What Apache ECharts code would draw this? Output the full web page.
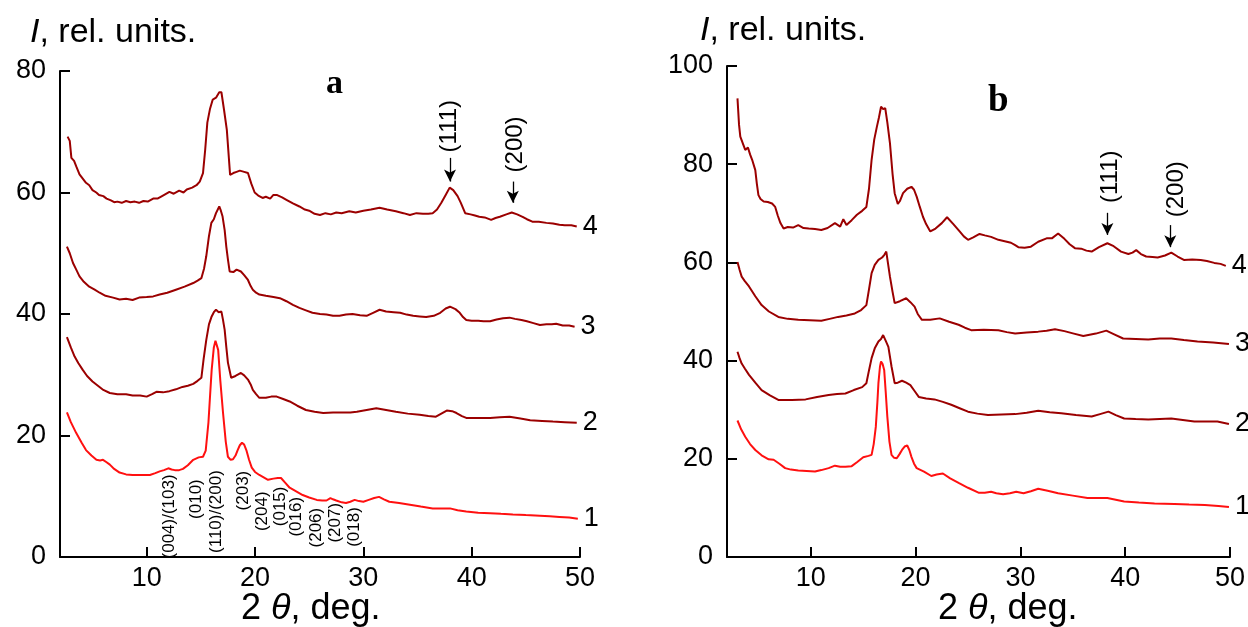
<!DOCTYPE html>
<html><head><meta charset="utf-8">
<script src="https://cdn.jsdelivr.net/npm/echarts@6/dist/echarts.min.js"></script>
<style>html,body{margin:0;padding:0;background:#fff}#c{width:1248px;height:627px}</style>
</head><body><div id="c"></div>
<script>
// ---------- data ----------
const xTicks = [10, 20, 30, 40, 50];
const curveNames = ['1', '2', '3', '4'];

// panel a
const a4 = [[2.7,69.2],[2.9,68.5],[3.05,65.7],[3.3,65.2],[3.5,64.3],[3.8,63.0],[4.1,62.3],[4.4,61.6],[4.7,61.2],[5.0,60.4],[5.35,60.0],[5.6,59.6],[6.0,59.4],[6.3,59.0],[6.7,58.7],[7.0,58.4],[7.3,58.5],[7.7,58.3],[8.1,58.6],[8.5,58.4],[8.9,58.5],[9.3,58.3],[9.7,58.6],[10.1,58.5],[10.6,59.0],[11.0,59.0],[11.5,59.5],[12.1,60.1],[12.5,59.8],[13.0,60.3],[13.4,60.0],[13.7,60.5],[14.2,60.8],[14.6,61.2],[14.9,61.8],[15.2,63.2],[15.4,67.0],[15.6,71.5],[15.85,73.8],[16.1,75.3],[16.4,75.6],[16.7,76.5],[16.9,76.5],[17.15,73.5],[17.4,70.3],[17.7,62.9],[18.0,63.2],[18.3,63.4],[18.6,63.6],[19.0,63.4],[19.35,63.2],[19.65,61.5],[19.97,60.0],[20.3,59.5],[20.7,59.1],[21.0,59.3],[21.4,59.0],[21.7,59.6],[22.0,59.6],[22.5,59.2],[22.9,58.8],[23.5,58.2],[24.1,57.7],[24.6,57.2],[25.0,57.0],[25.5,56.5],[26.0,56.3],[26.5,56.6],[27.0,56.4],[27.5,56.7],[28.0,56.6],[28.7,56.9],[29.3,56.7],[30.0,57.0],[30.7,57.2],[31.5,57.5],[32.2,57.2],[33.0,56.9],[33.7,56.6],[34.3,56.3],[34.9,56.6],[35.5,56.5],[36.0,56.5],[36.4,56.6],[36.8,57.2],[37.2,58.3],[37.6,59.6],[37.97,60.8],[38.3,60.4],[38.7,59.4],[39.0,58.3],[39.4,56.6],[39.9,56.4],[40.3,56.2],[40.7,56.0],[41.2,55.9],[41.8,55.5],[42.2,55.8],[42.6,56.0],[43.2,56.4],[43.7,56.7],[44.2,56.4],[44.7,56.0],[45.1,55.6],[45.6,55.2],[46.2,55.2],[46.9,55.0],[47.5,54.9],[48.1,54.7],[48.6,54.6],[49.2,54.6],[49.7,54.4]];
const a3 = [[2.64,51.1],[2.9,50.0],[3.2,48.4],[3.5,47.3],[3.8,46.2],[4.2,45.3],[4.7,44.5],[5.2,44.0],[5.66,43.5],[6.2,43.0],[6.9,42.7],[7.5,42.4],[8.1,42.5],[8.7,42.3],[9.3,42.7],[10.0,42.8],[10.6,42.9],[11.2,43.2],[11.9,43.5],[12.7,44.0],[13.5,44.5],[14.3,45.1],[14.7,45.5],[15.05,45.9],[15.3,47.5],[15.5,49.5],[15.75,52.8],[15.97,55.0],[16.2,55.6],[16.4,56.6],[16.55,56.4],[16.7,57.7],[16.85,57.0],[17.0,56.1],[17.2,53.8],[17.35,51.1],[17.5,49.0],[17.66,47.0],[18.0,46.9],[18.3,47.3],[18.7,47.0],[19.0,46.4],[19.35,45.6],[19.6,44.6],[19.8,44.0],[20.1,43.5],[20.4,43.2],[21.0,43.0],[21.7,42.8],[22.3,42.6],[22.9,42.1],[23.5,41.5],[24.1,41.0],[24.7,40.6],[25.3,40.2],[26.0,40.0],[26.6,39.9],[27.2,39.7],[27.8,39.7],[28.4,39.9],[29.0,40.0],[29.7,39.8],[30.3,39.7],[30.9,40.2],[31.5,40.7],[32.1,40.4],[32.8,40.3],[33.4,40.2],[34.0,39.9],[34.6,39.7],[35.2,39.6],[35.8,39.5],[36.5,39.7],[37.1,40.2],[37.6,40.9],[38.0,41.2],[38.5,40.8],[38.9,40.2],[39.2,39.5],[39.5,39.0],[40.0,38.9],[40.6,38.9],[41.1,38.8],[41.7,38.8],[42.3,39.1],[42.9,39.3],[43.5,39.4],[44.0,39.2],[44.6,39.0],[45.1,38.8],[45.7,38.5],[46.3,38.2],[46.9,38.3],[47.4,38.3],[47.8,38.4],[48.4,38.1],[49.0,38.1],[49.5,37.9]];
const a2 = [[2.64,36.2],[3.0,34.5],[3.35,33.0],[3.7,31.9],[4.1,30.8],[4.5,29.8],[5.0,28.9],[5.5,28.2],[6.0,27.5],[6.6,27.0],[7.3,26.8],[8.1,26.8],[8.7,26.6],[9.4,26.6],[10.0,26.4],[10.5,26.8],[10.9,27.2],[11.5,27.1],[12.1,27.3],[12.7,27.6],[13.3,28.0],[13.8,28.2],[14.3,28.5],[14.7,29.0],[15.05,29.5],[15.25,32.5],[15.5,35.7],[15.75,38.3],[16.0,39.6],[16.2,40.3],[16.4,40.7],[16.65,40.3],[16.9,40.4],[17.05,39.0],[17.2,37.4],[17.35,34.6],[17.5,32.0],[17.8,29.5],[18.2,29.8],[18.7,30.3],[19.0,29.9],[19.35,29.2],[19.6,28.4],[19.8,27.5],[20.1,26.8],[20.4,26.2],[21.0,26.2],[21.5,26.4],[22.0,26.4],[22.6,26.0],[23.2,25.6],[23.9,24.9],[24.7,24.2],[25.5,23.9],[26.3,23.7],[27.2,23.8],[28.1,23.8],[28.8,23.8],[29.4,23.9],[30.3,24.2],[31.2,24.5],[32.1,24.2],[33.0,23.9],[34.1,23.6],[35.2,23.4],[36.0,23.2],[36.7,23.1],[37.2,23.6],[37.7,24.1],[38.2,24.0],[38.6,23.7],[39.1,23.2],[39.5,22.9],[40.5,22.9],[41.7,22.9],[42.6,23.0],[43.5,23.1],[44.5,22.8],[45.4,22.5],[46.5,22.4],[47.5,22.3],[48.6,22.2],[49.7,22.1]];
const a1 = [[2.64,23.8],[3.0,22.2],[3.5,20.4],[4.0,18.8],[4.4,17.6],[4.9,16.7],[5.36,16.0],[5.7,15.9],[5.97,16.0],[6.3,15.6],[6.6,15.2],[7.0,14.5],[7.5,13.9],[8.1,13.6],[8.7,13.5],[9.5,13.5],[10.3,13.5],[10.8,13.8],[11.2,14.1],[11.6,14.3],[12.0,14.6],[12.3,14.4],[12.6,14.3],[13.0,14.3],[13.35,14.5],[13.8,15.1],[14.3,16.0],[14.8,16.4],[15.2,16.5],[15.45,17.5],[15.7,22.1],[15.85,26.5],[16.0,30.8],[16.2,34.5],[16.35,35.6],[16.5,35.3],[16.6,34.1],[16.8,29.0],[17.05,23.7],[17.3,19.0],[17.5,16.5],[17.75,16.0],[17.97,16.1],[18.2,16.7],[18.4,17.6],[18.6,18.4],[18.8,18.8],[19.0,18.5],[19.2,17.6],[19.45,16.0],[19.7,14.7],[20.0,14.0],[20.4,13.5],[20.8,13.1],[21.2,12.7],[21.7,12.9],[22.1,13.0],[22.4,13.0],[22.8,12.2],[23.2,11.4],[23.8,10.8],[24.4,10.2],[25.0,9.8],[25.7,9.4],[26.2,9.3],[26.6,9.3],[26.96,9.7],[27.2,9.5],[27.5,9.3],[28.0,9.0],[28.4,8.9],[28.8,9.1],[29.2,9.4],[29.6,9.2],[30.0,9.1],[30.5,9.4],[31.0,9.7],[31.45,9.9],[31.9,9.5],[32.4,9.1],[33.3,8.9],[34.3,8.6],[35.3,8.3],[36.4,8.0],[37.2,8.0],[38.0,8.0],[38.7,7.7],[39.5,7.5],[40.6,7.3],[41.7,7.2],[42.7,7.1],[43.8,7.0],[45.0,6.9],[46.3,6.8],[47.2,6.7],[48.1,6.6],[49.0,6.5],[49.8,6.3]];

// panel b
const b4 = [[3.0,93.4],[3.15,88.0],[3.27,85.6],[3.5,84.3],[3.74,82.9],[4.0,83.4],[4.2,82.0],[4.4,80.9],[4.7,78.8],[4.85,76.0],[5.0,73.7],[5.2,72.9],[5.5,72.4],[5.9,72.3],[6.3,72.0],[6.6,71.3],[6.85,69.5],[7.1,68.0],[7.4,66.9],[7.8,67.2],[8.3,67.1],[8.8,67.6],[9.3,67.0],[9.8,66.9],[10.4,66.8],[11.0,66.6],[11.6,67.0],[12.3,68.0],[12.8,67.3],[13.1,68.8],[13.4,67.6],[13.9,68.6],[14.4,69.7],[14.9,70.5],[15.3,71.3],[15.55,75.0],[15.8,80.9],[16.05,85.0],[16.3,87.6],[16.5,89.5],[16.7,91.7],[16.9,91.2],[17.1,91.4],[17.3,88.5],[17.55,84.3],[17.8,78.0],[18.0,74.1],[18.3,71.9],[18.5,72.5],[18.8,74.1],[19.2,75.0],[19.6,75.4],[19.85,74.8],[20.1,73.4],[20.4,71.3],[20.7,69.3],[21.0,67.8],[21.4,66.3],[21.9,66.9],[22.5,68.0],[23.0,69.2],[23.6,67.8],[24.2,66.3],[24.6,65.3],[25.0,64.6],[25.5,65.1],[26.1,65.8],[26.6,65.5],[27.2,65.2],[27.9,64.6],[28.5,64.3],[29.1,64.0],[29.5,63.5],[29.8,63.1],[30.4,63.0],[31.0,63.2],[31.7,64.2],[32.5,64.9],[33.0,64.9],[33.6,65.9],[34.2,64.8],[34.7,63.7],[35.2,62.9],[35.8,62.8],[36.3,62.4],[36.8,62.2],[37.5,63.1],[38.3,63.9],[38.9,63.3],[39.6,62.2],[40.3,61.7],[40.7,62.0],[41.05,62.5],[41.5,61.7],[42.0,61.2],[42.6,61.1],[43.1,61.0],[43.8,61.4],[44.4,62.0],[45.0,61.2],[45.6,60.5],[46.4,60.6],[47.2,60.5],[47.8,60.3],[48.5,59.9],[49.1,59.7],[49.6,59.3]];
const b3 = [[3.0,60.1],[3.2,58.5],[3.4,57.1],[3.7,56.2],[4.1,55.1],[4.7,53.1],[5.3,51.3],[6.0,50.0],[6.9,48.9],[7.8,48.5],[8.8,48.3],[9.9,48.2],[11.0,48.1],[11.8,48.5],[12.6,48.9],[13.4,49.2],[14.2,49.6],[14.8,50.3],[15.3,51.3],[15.55,54.5],[15.8,57.8],[16.1,59.5],[16.45,60.5],[16.8,61.0],[17.0,61.5],[17.2,62.2],[17.35,60.0],[17.55,57.1],[17.8,54.0],[18.0,51.7],[18.5,52.1],[19.1,52.7],[19.5,51.9],[19.9,51.0],[20.2,49.5],[20.6,48.3],[21.4,48.3],[22.3,48.6],[23.2,47.9],[24.1,47.3],[24.7,46.7],[25.3,46.2],[26.5,46.3],[27.9,46.2],[28.7,45.8],[29.5,45.5],[30.6,45.7],[31.7,45.9],[32.5,46.1],[33.3,46.4],[34.2,46.0],[35.1,45.5],[36.0,45.0],[37.2,45.5],[38.2,46.1],[38.9,45.4],[39.8,44.5],[41.0,44.4],[42.2,44.3],[43.3,44.5],[44.4,44.5],[45.6,44.2],[46.9,43.9],[48.4,43.7],[49.9,43.4]];
const b2 = [[3.0,41.8],[3.2,40.5],[3.4,39.4],[3.7,38.4],[4.1,37.1],[4.7,35.5],[5.3,34.0],[6.1,32.9],[6.9,32.0],[8.2,32.0],[9.5,32.1],[10.6,32.6],[11.7,33.0],[12.5,33.2],[13.3,33.3],[14.1,34.0],[14.9,34.6],[15.3,35.4],[15.55,38.0],[15.8,40.5],[16.1,42.5],[16.45,43.9],[16.7,44.4],[16.9,45.2],[17.15,44.0],[17.4,42.8],[17.7,38.8],[18.0,35.4],[18.3,35.5],[18.7,35.9],[19.1,35.5],[19.5,35.0],[19.9,33.8],[20.3,32.6],[21.0,32.3],[21.8,32.1],[22.6,31.6],[23.4,31.0],[24.2,30.3],[25.0,29.6],[25.9,29.2],[26.9,28.9],[28.2,29.0],[29.5,29.1],[30.6,29.4],[31.7,29.8],[32.8,29.5],[33.9,29.3],[35.3,28.9],[36.8,28.6],[37.6,29.1],[38.4,29.6],[39.1,28.9],[39.9,28.2],[41.0,28.1],[42.2,28.0],[43.3,28.1],[44.4,28.2],[45.5,27.9],[46.6,27.6],[47.7,27.6],[48.8,27.6],[49.9,27.1]];
const b1 = [[3.0,27.8],[3.35,26.0],[3.74,24.5],[4.2,23.0],[4.7,21.8],[5.3,20.7],[5.97,19.9],[6.45,19.8],[7.0,19.0],[7.55,18.1],[8.1,17.8],[8.8,17.6],[9.6,17.5],[10.4,17.4],[11.0,17.7],[11.7,18.1],[12.3,18.6],[12.8,18.4],[13.3,18.4],[13.9,18.5],[14.4,19.3],[15.0,20.3],[15.5,20.6],[15.8,20.8],[16.0,23.0],[16.2,26.5],[16.35,31.5],[16.45,35.4],[16.6,38.8],[16.7,39.8],[16.85,39.3],[17.0,38.1],[17.15,33.5],[17.3,28.6],[17.5,23.5],[17.7,20.8],[17.95,20.2],[18.2,20.1],[18.45,20.9],[18.7,21.8],[18.95,22.5],[19.2,22.7],[19.4,21.8],[19.6,20.4],[19.85,19.0],[20.1,18.1],[20.8,17.4],[21.5,16.5],[22.0,16.8],[22.6,17.0],[23.3,16.0],[24.1,15.1],[25.0,14.1],[26.0,13.1],[26.6,13.1],[27.2,13.3],[27.7,13.0],[28.35,12.8],[29.0,13.0],[29.6,13.3],[30.3,13.0],[31.0,13.4],[31.7,13.9],[32.6,13.5],[33.6,13.0],[35.0,12.5],[36.4,12.0],[37.3,12.0],[38.3,12.0],[39.9,11.3],[41.3,11.1],[42.8,10.9],[44.7,10.8],[46.1,10.7],[47.6,10.6],[48.9,10.4],[49.9,10.2]];

// annotations (text + anchor in data units)
const millerText = ['(004)/(103)','(010)','(110)/(200)','(203)','(204)','(015)','(016)','(206)','(207)','(018)'];
const millerAt = [[12.1,13.6],[14.6,12.8],[16.4,14.3],[18.9,14.2],[20.7,10.8],[22.3,11.6],[23.8,9.9],[25.7,8.1],[27.4,8.9],[29.2,8.2]];
const peakText = ['(111)','(200)'];
const arrowA = [[38.0,65.7,61.8],[43.8,61.8,58.3]];
const peakLabelA = [[37.95,66.6],[44.0,63.3]];
const arrowB = [[38.3,70.1,65.6],[44.3,67.6,63.1]];
const peakLabelB = [[38.6,72.1],[44.85,69.2]];

// ---------- chart ----------
const FONT = 'Liberation Sans, Arial, sans-serif';
const DARK = '#9b0000', RED = '#ff1010';
const chart = echarts.init(document.getElementById('c'), null, {renderer: 'canvas'});

function xAxis(gi) {
  return {
    type: 'value', gridIndex: gi, min: 2, max: 50,
    axisLine: {onZero: false, lineStyle: {color: '#000', width: 2}},
    axisTick: {inside: true, length: 10, customValues: xTicks, lineStyle: {color: '#000', width: 2}},
    axisLabel: {customValues: xTicks, color: '#000', fontSize: 27, fontFamily: FONT, margin: 8},
    splitLine: {show: false}
  };
}
function yAxis(gi, max) {
  return {
    type: 'value', gridIndex: gi, min: 0, max: max, interval: 20,
    axisLine: {show: true, lineStyle: {color: '#000', width: 2}},
    axisTick: {show: true, inside: true, length: 10, lineStyle: {color: '#000', width: 2}},
    axisLabel: {color: '#000', fontSize: 27, fontFamily: FONT, margin: 14},
    splitLine: {show: false}
  };
}
function curve(data, gi, color, name) {
  return {
    type: 'line', xAxisIndex: gi, yAxisIndex: gi, data: data, name: name,
    symbol: 'none', showSymbol: false, silent: true, clip: false,
    lineStyle: {color: color, width: 2},
    endLabel: {show: true, formatter: name, color: '#000', fontSize: 27, fontFamily: FONT, distance: 6}
  };
}
function textLabels(gi, texts, at, align, size) {
  return {
    type: 'scatter', xAxisIndex: gi, yAxisIndex: gi, silent: true, symbolSize: 0,
    itemStyle: {color: '#000', opacity: 0},
    data: texts.map((t, i) => ({value: at[i], name: t})),
    label: {show: true, position: 'inside', rotate: 90, align: align, verticalAlign: 'middle',
      formatter: p => p.name, color: '#000', fontSize: size, fontFamily: FONT,
      textBorderWidth: 0, textBorderColor: 'transparent', opacity: 1}
  };
}
function arrows(gi, list) {
  return {
    type: 'line', xAxisIndex: gi, yAxisIndex: gi, data: [], silent: true,
    markLine: {
      silent: true, symbol: ['none', 'arrow'], symbolSize: [9, 12], animation: false,
      label: {show: false},
      lineStyle: {color: '#000', width: 1.3, type: 'solid'},
      data: list.map(a => [{coord: [a[0], a[1]]}, {coord: [a[0], a[2]]}])
    }
  };
}

const titleStyle = (size) => ({fontSize: size, fontFamily: FONT, color: '#000', fontWeight: 'normal',
  rich: {i: {fontStyle: 'italic', fontSize: size, fontFamily: FONT, color: '#000'},
         n: {fontSize: size, fontFamily: FONT, color: '#000'}}});

const option = {
  animation: false,
  backgroundColor: '#fff',
  title: [
    {text: '{i|I}{n|, rel. units.}', left: 25, top: 11, textStyle: titleStyle(34)},
    {text: '{i|I}{n|, rel. units.}', left: 695, top: 9, textStyle: titleStyle(34)},
    {text: '{n|2 }{i|θ}{n|, deg.}', left: 236, top: 586, textStyle: titleStyle(36)},
    {text: '{n|2 }{i|θ}{n|, deg.}', left: 933, top: 586, textStyle: titleStyle(36)},
    {text: 'a', left: 321, top: 62, textStyle: {fontSize: 34, fontWeight: 'bold', fontFamily: 'Liberation Serif, Times New Roman, serif', color: '#000'}},
    {text: 'b', left: 983, top: 78, textStyle: {fontSize: 37, fontWeight: 'bold', fontFamily: 'Liberation Serif, Times New Roman, serif', color: '#000'}}
  ],
  grid: [
    {left: 60, right: 668, top: 71, bottom: 70, containLabel: false},
    {left: 727, right: 18, top: 66, bottom: 70, containLabel: false}
  ],
  xAxis: [xAxis(0), xAxis(1)],
  yAxis: [yAxis(0, 80), yAxis(1, 100)],
  series: [
    curve(a1, 0, RED, curveNames[0]),
    curve(a2, 0, DARK, curveNames[1]),
    curve(a3, 0, DARK, curveNames[2]),
    curve(a4, 0, DARK, curveNames[3]),
    curve(b1, 1, RED, curveNames[0]),
    curve(b2, 1, DARK, curveNames[1]),
    curve(b3, 1, DARK, curveNames[2]),
    curve(b4, 1, DARK, curveNames[3]),
    textLabels(0, millerText, millerAt, 'right', 17),
    textLabels(0, peakText, peakLabelA, 'left', 24),
    textLabels(1, peakText, peakLabelB, 'left', 24),
    arrows(0, arrowA),
    arrows(1, arrowB)
  ]
};
chart.setOption(option);
</script>
</body></html>
